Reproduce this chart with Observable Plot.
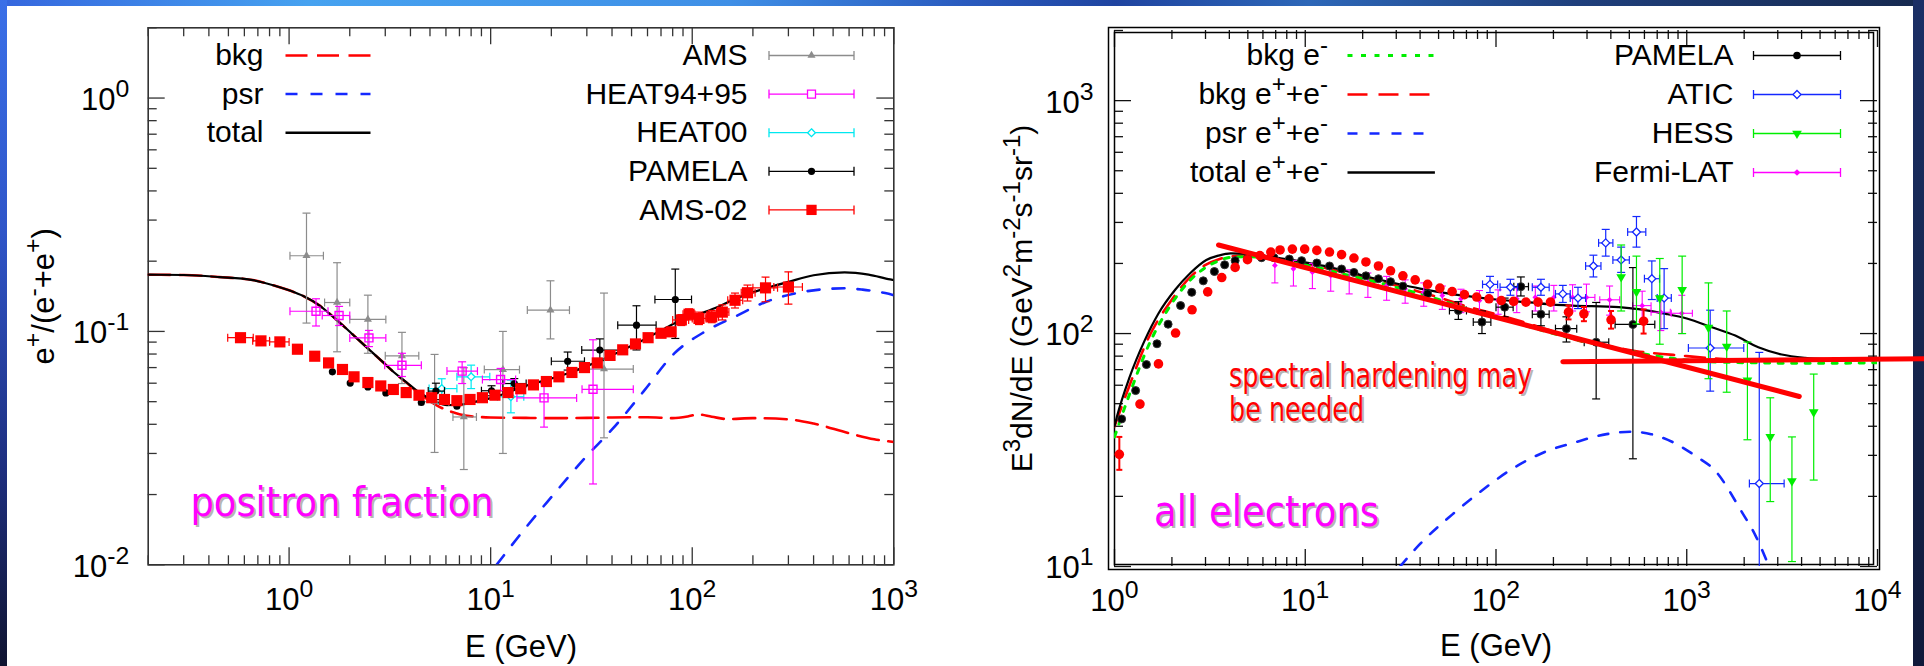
<!DOCTYPE html>
<html><head><meta charset="utf-8">
<script src="https://cdn.jsdelivr.net/npm/d3@7"></script>
<script src="https://cdn.jsdelivr.net/npm/@observablehq/plot@0.6"></script>
<style>
html,body{margin:0;padding:0}
body{width:1924px;height:666px;position:relative;overflow:hidden;background:#fff;font-family:"Liberation Sans",Arial,Helvetica,sans-serif}
.band{position:absolute}
#pL,#pR{position:absolute;top:0}
#pL{left:0}#pR{left:960px}
</style></head><body>
<div class="band" style="left:0;top:0;width:1924px;height:6px;background:linear-gradient(90deg,#3566de 0%,#46a2f0 16%,#3f8fe6 38%,#2a5bbf 50%,#1f44a0 58%,#2d67b8 68%,#1f3f7c 82%,#16294f 100%)"></div>
<div class="band" style="left:0;top:0;width:7px;height:666px;background:linear-gradient(180deg,#3a70e8 0%,#2f55c8 35%,#1e2f80 70%,#0f1430 100%)"></div>
<div class="band" style="left:1913px;top:0;width:11px;height:666px;background:linear-gradient(180deg,#1b2f66 0%,#16264f 50%,#10193a 100%)"></div>
<div id="pL"></div><div id="pR"></div>
<script>
// ================= LEFT PANEL : positron fraction =================
const xTicksL = [1, 10, 100, 1000];
const yTicksL = [0.01, 0.1, 1];
const legendModelsL = ["bkg", "psr", "total"];
const legendDataL = ["AMS", "HEAT94+95", "HEAT00", "PAMELA", "AMS-02"];

// model curves [E (GeV), e+/(e-+e+)]
const pfTotal = [[0.2,0.175],[0.3,0.1745],[0.45,0.171],[0.66,0.166],[0.85,0.157],[1.0,0.150],[1.19,0.141],[1.4,0.130],[1.59,0.119],[1.85,0.106],[2.13,0.0948],[2.48,0.084],[2.85,0.0753],[3.3,0.067],[3.8,0.0608],[4.3,0.0557],[4.81,0.0524],[5.4,0.0497],[6.07,0.0483],[7,0.0485],[8,0.0495],[10,0.0518],[12,0.0545],[15,0.0585],[20,0.0628],[25,0.0668],[30,0.071],[40,0.079],[50,0.0868],[60,0.094],[70,0.101],[85,0.110],[105,0.1175],[130,0.126],[164,0.138],[220,0.151],[300,0.163],[400,0.174],[570,0.179],[750,0.175],[960,0.167],[1000,0.166]];
const pfBkg = [[0.2,0.175],[0.3,0.1745],[0.45,0.171],[0.66,0.166],[0.85,0.157],[1.0,0.150],[1.19,0.141],[1.4,0.130],[1.59,0.119],[1.85,0.106],[2.13,0.0948],[2.48,0.084],[2.85,0.0753],[3.3,0.067],[3.8,0.0605],[4.3,0.0553],[4.81,0.0515],[5.4,0.0482],[6.07,0.0460],[7,0.0442],[8,0.0433],[10,0.0428],[15,0.0426],[20,0.0425],[30,0.0426],[40,0.0428],[60,0.0429],[80,0.0425],[95,0.0432],[107,0.0441],[125,0.0431],[150,0.0421],[200,0.0425],[300,0.0420],[400,0.0403],[600,0.0366],[800,0.0345],[1000,0.0336]];
const pfPsr = [[10.7,0.01],[15,0.0145],[20,0.0195],[30,0.0293],[40,0.038],[57.5,0.0555],[81.5,0.0805],[116,0.100],[164,0.116],[233,0.134],[330,0.146],[466,0.152],[570,0.153],[700,0.151],[906,0.146],[1000,0.143]];

// data points [E, value]
const ams02 = [[0.574,0.094],[0.725,0.0911],[0.9,0.0902],[1.10,0.0839],[1.34,0.0783],[1.57,0.0733],[1.84,0.0687],[2.10,0.0639],[2.46,0.0604],[2.85,0.0584],[3.29,0.0564],[3.81,0.0547],[4.41,0.0533],[5.1,0.0520],[5.9,0.0511],[6.8,0.0505],[7.9,0.0511],[9.1,0.0520],[10.5,0.0533],[12.2,0.0547],[14.1,0.0568],[16.3,0.0590],[18.9,0.0610],[21.8,0.0639],[25.3,0.0667],[29.2,0.0700],[33.8,0.0733],[39.1,0.0789],[45.2,0.0834],[52.3,0.0884],[60.4,0.094],[70,0.0982],[78.6,0.0996],[88.3,0.112],[96.4,0.1185],[108,0.1137],[125,0.1155],[141,0.121],[163,0.136],[188,0.1465],[231,0.1537],[300,0.155]];
// error bars [E, value, low, high, Elow, Ehigh]
const ams02Err = [[0.574,0.094,0.094,0.094,0.496,0.664],[0.725,0.0911,0.0911,0.0911,0.66,0.8],[0.9,0.0902,0.0902,0.0902,0.8,1.0],[88.3,0.112,0.106,0.118,80,96],[96.4,0.1185,0.112,0.125,90,103],[108,0.1137,0.107,0.121,100,117],[125,0.1155,0.109,0.123,117,135],[141,0.121,0.112,0.130,132,152],[163,0.136,0.126,0.146,150,178],[188,0.1465,0.135,0.158,175,205],[231,0.1537,0.134,0.171,200,265],[300,0.155,0.131,0.180,254,352]];
const pamelaL = [[1.64,0.0671],[2.01,0.0601],[2.46,0.0578],[3.02,0.0545],[4.53,0.0496],[5.35,0.0555],[6.8,0.0478],[10.1,0.0557],[13.1,0.0598],[24.1,0.0745],[34.8,0.0832],[52.9,0.1064],[82.4,0.137]];
const pamelaLErr = [[5.35,0.0555,0.0510,0.0600,4.9,5.9],[10.1,0.0557,0.0530,0.0585,9,11.5],[13.1,0.0598,0.057,0.0628,11.5,15],[24.1,0.0745,0.0683,0.0816,20.0,29.2],[34.8,0.0832,0.075,0.0929,28.3,43.3],[52.9,0.1064,0.0833,0.1288,42.7,66.2],[82.4,0.137,0.0933,0.185,65.3,99.2]];
const amsOld = [[1.22,0.211,0.1086,0.321,1.01,1.48],[1.73,0.133,0.0818,0.197,1.50,2.0],[2.46,0.1126,0.0806,0.143,2.0,3.02],[3.63,0.0786,0.0598,0.0991,3.0,4.4],[5.27,0.050,0.0303,0.0797,4.4,6.2],[7.36,0.043,0.0256,0.0699,6.5,8.5],[11.5,0.0686,0.030,0.100,9.3,13.9],[19.8,0.1234,0.0929,0.1648,15.2,24.6],[36.5,0.069,0.035,0.146,28.4,51]];
const heat9495 = [[1.36,0.122,0.1055,0.138,1.01,1.56],[1.77,0.117,0.106,0.128,1.46,2.0],[2.49,0.0938,0.0861,0.101,2.0,3.02],[3.63,0.0716,0.0641,0.0806,2.98,4.53],[7.22,0.0676,0.0598,0.0741,6.07,8.6],[11.2,0.0622,0.0558,0.0694,9.1,13.3],[18.4,0.0519,0.0389,0.0597,13.5,26.7],[32.2,0.0565,0.0222,0.0921,28.4,51]];
const heat00 = [[5.72,0.0569,0.0489,0.0627,4.95,6.8],[8.0,0.0639,0.0569,0.0717,6.8,9.9],[12.6,0.0525,0.0448,0.0618,10.8,14.6]];

// ================= RIGHT PANEL : all electrons =================
const xTicksR = [1, 10, 100, 1000, 10000];
const yTicksR = [10, 100, 1000];
const legendModelsR = ["bkg e^{-}", "bkg e^{+}+e^{-}", "psr e^{+}+e^{-}", "total e^{+}+e^{-}"];
const legendDataR = ["PAMELA", "ATIC", "HESS", "Fermi-LAT"];

// model curves [E (GeV), E^3 dN/dE]
const aeTotal = [[1.0,40],[1.03,44],[1.2,65],[1.44,93.5],[1.7,122],[2.09,155],[2.5,182],[3.03,207],[3.5,216],[4.07,221],[5,220],[6,216],[7,212],[8.5,207],[10,202],[13,194],[17,184],[22,174],[30,164],[40,156],[58,148],[80,143],[100,140],[150,136],[200,133],[251,131.8],[441,129.8],[779,121.4],[1000,116],[1355,106.4],[1796,98],[2372,87.3],[3148,81.3],[4168,78.7],[5500,77.6],[7000,77.3],[10000,77]];
const aeBkgE = [[1.0,36],[1.2,55],[1.5,88],[2.0,135],[2.5,170],[3,192],[3.5,205],[4,212],[5,214],[6,212],[7,208],[10,198],[15,182],[20,172],[30,158],[50,140],[70,128],[100,118],[150,107],[200,100],[300,92],[500,84],[700,80],[1000,77],[2000,75],[5000,74.5],[10000,75]];
const aeBkgEE = [[1.0,40],[1.2,60],[1.5,95],[2,140],[2.5,175],[3,197],[3.5,208],[4,214],[5,216],[6,214],[7,210],[10,200],[15,185],[20,175],[30,161],[50,143],[70,131],[100,121],[150,110],[200,102],[260,94],[400,88],[545,84],[850,81],[1000,80],[2000,77],[5000,76.5],[10000,77]];
const aePsr = [[31.4,10],[40,12.5],[58.9,16.7],[80,20.5],[124,26.5],[180,31],[259,34.1],[380,37],[506,37.9],[650,37],[850,34.1],[1100,30],[1426,25.5],[1923,17.4],[2300,13.5],[2700,10]];
// hand-drawn "spectral hardening" guide lines
const hardenSoft = [[3.51,240],[3890,53.7]];
const hardenFlat = [[224,75.7],[17600,78]];

const pamelaR = [[1.09,43],[1.29,56.9],[1.47,73.6],[1.67,90.4],[1.91,109.7],[2.22,131.9],[2.54,150.3],[2.92,168.4],[3.34,184.6],[3.78,197.3],[4.29,205.6],[4.98,210],[5.9,211.7],[6.86,211.7],[8.25,208.8],[9.57,205.6],[11.5,200.9],[13.4,195],[15.5,189.3],[18,183],[20.8,176.9],[24.2,171.9],[28,166.9],[32.5,159.8],[43.8,148.4],[63.5,125.6],[84.4,112],[111,129.8],[135,159],[172,121],[234,105],[335,91.8],[522,109.4]];
const pamelaRErr = [[63.5,125.6,115,137,57,70],[84.4,112,100,125,76,94],[111,129.8,118,142,100,123],[135,159,145,175,124,148],[172,121,108,135,155,190],[234,105,92,118,205,265],[335,91.8,52.4,136,290,390],[522,109.4,29,192,421,680]];
const redAll = [[1.06,30.3],[1.36,49.8],[1.70,74.1],[2.09,100.5],[2.55,126.5],[3.08,151],[3.65,174],[4.29,192.3],[4.98,207.5],[5.78,216.2],[6.6,223.8],[7.38,228.5],[8.56,230.5],[9.93,230.5],[11.5,227.5],[13.4,223.8],[15.5,218.3],[18,211],[20.8,203],[24.2,195],[28,186],[32.5,177],[37.7,170],[43.8,162.7],[50.8,156.7],[58.9,151.5],[68.3,147],[79.2,143.5],[91.9,141],[106.6,138.6],[123.7,137.4],[143.5,136.4],[166,136.4],[193,136.4],[240,123.6],[289,121.6],[401,114.6],[594,113]];
const redAllErr = [[1.06,30.3,26,36,1.06,1.06],[240,123.6,115,132,240,240],[289,121.6,113,130,289,289],[401,114.6,105,125,401,401],[594,113,100,127,594,594]];
const fermi = [[6.93,196,165,212,6.93,6.93],[8.67,189.7,160,206,8.67,8.67],[10.9,183.4,156,200,10.9,10.9],[13.6,177.4,152,194,13.6,13.6],[17,171.7,148,188,17,17],[21.3,166,143,182,21.3,21.3],[26.7,160.7,139,176,26.7,26.7],[33.4,155.5,135,170,33.4,33.4],[41.8,150.4,131,165,41.8,41.8],[52.3,145.6,127,160,52.3,52.3],[65.5,140.9,123,155,65.5,65.5],[81.9,138.6,121,153,81.9,81.9],[102.6,138.6,121,154,102.6,102.6],[128.5,140.9,123,157,128.5,128.5],[160.7,143.1,125,160,160.7,160.7],[201,143.1,125,161,201,201],[252,143.1,125,162,252,252],[298,143,124,163,270,330],[394,139.6,120,160,350,445],[584,131.8,112,152,520,650],[731,123.4,103,145,650,820],[942,122.2,100,146,830,1070]];
const atic = [[93,162.6,150,176,85,102],[119,158,146,171,105,130],[172,158,146,171,155,190],[224,148,136,161,205,245],[269,142,128,158,245,295],[324,195,175,217,295,355],[376,245,215,280,345,410],[453,207,183,235,410,500],[545,273,235,318,490,610],[656,172,140,205,600,720],[761,142,105,190,700,830],[1327,86.7,56.6,126,1020,1990],[2400,22.7,10,83,2130,3240]];
const hess = [[453,175,125,240],[545,151,110,215],[722,142,90,210],[946,154,100,215],[1300,106,64,165],[1620,88,56,125],[2080,63,35,92],[2740,36,19,53],[3560,23.3,10.5,36],[4630,46,23.5,67]];

// ---------------- colours / helpers ----------------
const RED = "#ff0000", BLUE = "#1428ff", GREEN = "#00ee00", MAG = "#ff00ff", CYAN = "#00e8f0", GRAY = "#8c8c8c", BLK = "#000";
const FONT = "Liberation Sans, Arial, Helvetica, sans-serif";
const AFONT = "DejaVu Sans, Verdana, sans-serif";
const hCap = w => ({draw(c){c.moveTo(-w,0);c.lineTo(w,0);}});
const vCap = h => ({draw(c){c.moveTo(0,-h);c.lineTo(0,h);}});
const hLine = w => ({draw(c){c.moveTo(-w,0);c.lineTo(w,0);}});
const errSample = (w,h) => ({draw(c){c.moveTo(-w,0);c.lineTo(w,0);c.moveTo(-w,-h);c.lineTo(-w,h);c.moveTo(w,-h);c.lineTo(w,h);}});
const X = r => r[0], Y = r => r[1];

function errorMarks(rows, color, cap = 4, sw = 1.2) {
  const vb = rows.filter(r => r[2] < r[3]);
  const hb = rows.filter(r => r.length > 4 && r[4] < r[5]);
  const o = {stroke: color, strokeWidth: sw, clip: true};
  return [
    Plot.link(vb, {x1: X, x2: X, y1: r => r[2], y2: r => r[3], ...o}),
    Plot.dot(vb, {x: X, y: r => r[2], symbol: hCap(cap), fill: "none", ...o}),
    Plot.dot(vb, {x: X, y: r => r[3], symbol: hCap(cap), fill: "none", ...o}),
    Plot.link(hb, {x1: r => r[4], x2: r => r[5], y1: Y, y2: Y, ...o}),
    Plot.dot(hb, {x: r => r[4], y: Y, symbol: vCap(cap), fill: "none", ...o}),
    Plot.dot(hb, {x: r => r[5], y: Y, symbol: vCap(cap), fill: "none", ...o})
  ];
}
function decadeMinors(lo, hi) {
  const out = [];
  for (let e = Math.floor(Math.log10(lo)); e <= Math.ceil(Math.log10(hi)); e++)
    for (let m = 2; m <= 9; m++) { const v = m * 10 ** e; if (v >= lo * 0.999 && v <= hi * 1.001) out.push(v); }
  return out;
}
function frameTicks(xMaj, xMin, yMaj, yMin, pw, ph, color) {
  const o = {stroke: color, strokeWidth: 1.3};
  return [
    Plot.tickX(xMin, {x: d => d, insetTop: ph - 9, ...o}),
    Plot.tickX(xMaj, {x: d => d, insetTop: ph - 17, ...o}),
    Plot.tickX(xMin, {x: d => d, insetBottom: ph - 9, ...o}),
    Plot.tickX(xMaj, {x: d => d, insetBottom: ph - 17, ...o}),
    Plot.tickY(yMin, {y: d => d, insetRight: pw - 9, ...o}),
    Plot.tickY(yMaj, {y: d => d, insetRight: pw - 17, ...o}),
    Plot.tickY(yMin, {y: d => d, insetLeft: pw - 9, ...o}),
    Plot.tickY(yMaj, {y: d => d, insetLeft: pw - 17, ...o})
  ];
}
const pow = d => `10^{${Math.round(Math.log10(d))}}`;
function tickLabels(xt, yt, ydx) {
  return [
    Plot.text(xt, {x: d => d, frameAnchor: "bottom", dy: 35, text: pow, fontSize: 31, fontFamily: FONT, textAnchor: "middle", lineAnchor: "middle", fill: "#000"}),
    Plot.text(yt, {y: d => d, frameAnchor: "left", dx: ydx, dy: 2, text: pow, fontSize: 31, fontFamily: FONT, textAnchor: "end", lineAnchor: "middle", fill: "#000"})
  ];
}
function legendMarks(labels, textDx, sampleDx, dy0, step, half, specs) {
  const m = [];
  labels.forEach((lab, i) => {
    const dy = dy0 + i * step, s = specs[i];
    m.push(Plot.text([lab], {frameAnchor: "top-left", dx: textDx, dy, text: d => d, textAnchor: "end", lineAnchor: "middle", fontSize: 30, fontFamily: FONT, fill: "#000"}));
    if (s.line) m.push(Plot.dot([0], {frameAnchor: "top-left", dx: sampleDx, dy, symbol: hLine(half), fill: "none", stroke: s.color, strokeWidth: s.sw || 2.5, strokeDasharray: s.dash}));
    else {
      m.push(Plot.dot([0], {frameAnchor: "top-left", dx: sampleDx, dy, symbol: errSample(half, 4.5), fill: "none", stroke: s.color, strokeWidth: 1.3}));
      m.push(Plot.dot([0], {frameAnchor: "top-left", dx: sampleDx, dy, symbol: s.symbol, r: s.r, fill: s.fill, stroke: s.stroke || "none", strokeWidth: 1.3, rotate: s.rotate || 0}));
    }
  });
  return m;
}
function annot(txt, dx, dy, size, color) {
  return [
    Plot.text([txt], {frameAnchor: "top-left", dx: dx + 2, dy: dy + 2, text: d => d, textAnchor: "start", lineAnchor: "middle", fontSize: size, fontFamily: AFONT, fill: "#777", fillOpacity: 0.55}),
    Plot.text([txt], {frameAnchor: "top-left", dx, dy, text: d => d, textAnchor: "start", lineAnchor: "middle", fontSize: size, fontFamily: AFONT, fill: color})
  ];
}

// ---------------- LEFT PLOT ----------------
const mL = {l: 147.7, r: 66.7, t: 27.3, b: 101.7};
const pwL = 960 - mL.l - mL.r, phL = 666 - mL.t - mL.b;
const left = Plot.plot({
  width: 960, height: 666,
  marginLeft: mL.l, marginRight: mL.r, marginTop: mL.t, marginBottom: mL.b,
  x: {type: "log", domain: [0.2, 1000], axis: null},
  y: {type: "log", domain: [0.01, 2], axis: null},
  style: {background: "transparent", overflow: "visible", fontFamily: FONT},
  marks: [
    ...frameTicks(xTicksL, decadeMinors(0.2, 1000), yTicksL, decadeMinors(0.01, 2), pwL, phL, "#333"),
    Plot.frame({stroke: "#333", strokeWidth: 1.6}),
    ...tickLabels(xTicksL, yTicksL, -19),
    Plot.text(["E (GeV)"], {frameAnchor: "bottom", dy: 82, text: d => d, fontSize: 31, fontFamily: FONT, textAnchor: "middle", lineAnchor: "middle", fill: "#000"}),
    Plot.text(["e^{+}/(e^{-}+e^{+})"], {frameAnchor: "left", dx: 44 - mL.l, rotate: -90, text: d => d, fontSize: 31, fontFamily: FONT, textAnchor: "middle", lineAnchor: "middle", fill: "#000"}),
    Plot.line(pfBkg, {x: X, y: Y, stroke: RED, strokeWidth: 2.6, strokeDasharray: "22,9.5", curve: "monotone-x", clip: true}),
    Plot.line(pfPsr, {x: X, y: Y, stroke: BLUE, strokeWidth: 2.6, strokeDasharray: "12,13", curve: "monotone-x", clip: true}),
    Plot.line(pfTotal, {x: X, y: Y, stroke: BLK, strokeWidth: 2.2, curve: "monotone-x", clip: true}),
    ...errorMarks(amsOld, GRAY),
    Plot.dot(amsOld, {x: X, y: Y, symbol: "triangle", r: 3, fill: GRAY}),
    ...errorMarks(heat00, CYAN),
    Plot.dot(heat00, {x: X, y: Y, symbol: "diamond2", r: 3.5, fill: "white", stroke: CYAN, strokeWidth: 1.3}),
    ...errorMarks(pamelaLErr, BLK),
    Plot.dot(pamelaL, {x: X, y: Y, r: 3.6, fill: BLK}),
    ...errorMarks(heat9495, MAG),
    Plot.dot(heat9495, {x: X, y: Y, symbol: "square", r: 4.5, fill: "none", stroke: MAG, strokeWidth: 1.4}),
    ...errorMarks(ams02Err, RED),
    Plot.dot(ams02, {x: X, y: Y, symbol: "square", r: 6.3, fill: RED}),
    ...legendMarks(legendModelsL, 263 - mL.l, 327.5 - mL.l, 55 - mL.t, 38.6, 42.5, [
      {line: true, color: RED, dash: "22,9.5"}, {line: true, color: BLUE, dash: "12,13"}, {line: true, color: BLK}]),
    ...legendMarks(legendDataL, 747 - mL.l, 811 - mL.l, 55 - mL.t, 38.6, 42.5, [
      {color: GRAY, symbol: "triangle", r: 3, fill: GRAY},
      {color: MAG, symbol: "square", r: 4.5, fill: "white", stroke: MAG},
      {color: CYAN, symbol: "diamond2", r: 3.5, fill: "white", stroke: CYAN},
      {color: BLK, symbol: "circle", r: 3.6, fill: BLK},
      {color: RED, symbol: "square", r: 5.8, fill: RED}]),
    ...annot("positron fraction", 190 - mL.l, 503 - mL.t, 40, MAG)
  ]
});

// ---------------- RIGHT PLOT ----------------
const mR = {l: 154, r: 47, t: 30, b: 100};
const pwR = 964 - mR.l - mR.r, phR = 666 - mR.t - mR.b;
const right = Plot.plot({
  width: 964, height: 666,
  marginLeft: mR.l, marginRight: mR.r, marginTop: mR.t, marginBottom: mR.b,
  x: {type: "log", domain: [1, 10000], axis: null},
  y: {type: "log", domain: [10, 2000], axis: null},
  style: {background: "transparent", overflow: "visible", fontFamily: FONT},
  marks: [
    ...frameTicks(xTicksR, decadeMinors(1, 10000), yTicksR, decadeMinors(10, 2000), pwR, phR, "#111"),
    Plot.frame({stroke: "#000", strokeWidth: 1.5, insetRight: 4, insetTop: 2, insetBottom: 2}),
    Plot.frame({stroke: "#000", strokeWidth: 1.5, insetLeft: -6, insetRight: -2, insetTop: -3, insetBottom: -3}),
    ...tickLabels(xTicksR, yTicksR, -21),
    Plot.text(["E (GeV)"], {frameAnchor: "bottom", dy: 80, text: d => d, fontSize: 31, fontFamily: FONT, textAnchor: "middle", lineAnchor: "middle", fill: "#000"}),
    Plot.text(["E^{3}dN/dE (GeV^{2}m^{-2}s^{-1}sr^{-1})"], {frameAnchor: "left", dx: 1022 - 1114, rotate: -90, text: d => d, fontSize: 30, fontFamily: FONT, textAnchor: "middle", lineAnchor: "middle", fill: "#000"}),
    Plot.line(aeBkgEE, {x: X, y: Y, stroke: RED, strokeWidth: 2.6, strokeDasharray: "20,11", curve: "monotone-x", clip: true}),
    Plot.line(aeBkgE, {x: X, y: Y, stroke: GREEN, strokeWidth: 3, strokeDasharray: "5,8.5", curve: "monotone-x", clip: true}),
    Plot.line(aePsr, {x: X, y: Y, stroke: BLUE, strokeWidth: 2.6, strokeDasharray: "10,12", curve: "monotone-x", clip: true}),
    Plot.line(aeTotal, {x: X, y: Y, stroke: BLK, strokeWidth: 2.2, curve: "monotone-x", clip: true}),
    ...errorMarks(fermi, MAG, 3.5, 1.1),
    Plot.dot(fermi, {x: X, y: Y, symbol: "diamond2", r: 2.6, fill: MAG}),
    ...errorMarks(pamelaRErr, BLK),
    Plot.dot(pamelaR, {x: X, y: Y, r: 4, fill: BLK, stroke: "#333", strokeWidth: 1}),
    ...errorMarks(atic, BLUE),
    Plot.dot(atic, {x: X, y: Y, symbol: "diamond2", r: 3.6, fill: "white", stroke: BLUE, strokeWidth: 1.3}),
    ...errorMarks(hess, GREEN),
    Plot.dot(hess, {x: X, y: Y, symbol: "triangle", rotate: 180, r: 3.6, fill: GREEN}),
    ...errorMarks(redAllErr, RED, 3, 2),
    Plot.dot(redAll, {x: X, y: Y, r: 4.8, fill: RED}),
    Plot.line(hardenSoft, {x: X, y: Y, stroke: RED, strokeWidth: 5}),
    Plot.line(hardenFlat, {x: X, y: Y, stroke: RED, strokeWidth: 5}),
    ...legendMarks(legendModelsR, 1327.5 - mR.l - 960, 1390.7 - mR.l - 960, 55 - mR.t, 39, 43.7, [
      {line: true, color: GREEN, dash: "5,8.5", sw: 3}, {line: true, color: RED, dash: "20,11"}, {line: true, color: BLUE, dash: "10,12"}, {line: true, color: BLK}]),
    ...legendMarks(legendDataR, 1733 - mR.l - 960, 1796.5 - mR.l - 960, 55 - mR.t, 39, 43.5, [
      {color: BLK, symbol: "circle", r: 3.8, fill: BLK},
      {color: BLUE, symbol: "diamond2", r: 3.6, fill: "white", stroke: BLUE},
      {color: GREEN, symbol: "triangle", r: 3.6, fill: GREEN, rotate: 180},
      {color: MAG, symbol: "diamond2", r: 3, fill: MAG}]),
    ...annot("spectral hardening may", 1228.6 - 1114, 376 - mR.t, 34, RED),
    ...annot("be needed", 1228.6 - 1114, 410 - mR.t, 34, RED),
    ...annot("all electrons", 1153.6 - 1114, 512 - mR.t, 42, MAG)
  ]
});

document.getElementById("pL").appendChild(left);
document.getElementById("pR").appendChild(right);

// superscripts written as ^{...}
const annotWidths = {"positron fraction": 303, "all electrons": 225, "spectral hardening may": 303, "be needed": 135};
function finish(svg) {
  svg.querySelectorAll("text").forEach(t => {
    const s = t.textContent;
    if (annotWidths[s]) { t.setAttribute("textLength", annotWidths[s]); t.setAttribute("lengthAdjust", "spacingAndGlyphs"); }
    if (!s.includes("^{")) return;
    const fs = parseFloat(getComputedStyle(t).fontSize) || 30;
    const parts = []; const re = /\^\{([^}]*)\}/g; let last = 0, m;
    while ((m = re.exec(s))) { if (m.index > last) parts.push([s.slice(last, m.index), false]); parts.push([m[1], true]); last = re.lastIndex; }
    if (last < s.length) parts.push([s.slice(last), false]);
    while (t.firstChild) t.removeChild(t.firstChild);
    let shift = 0;
    for (const [str, sup] of parts) {
      const ts = document.createElementNS("http://www.w3.org/2000/svg", "tspan");
      const target = sup ? -0.42 * fs : 0;
      ts.setAttribute("dy", target - shift); shift = target;
      if (sup) ts.setAttribute("font-size", 0.8 * fs);
      ts.textContent = str; t.appendChild(ts);
    }
  });
}
finish(left); finish(right);
</script>
</body></html>
